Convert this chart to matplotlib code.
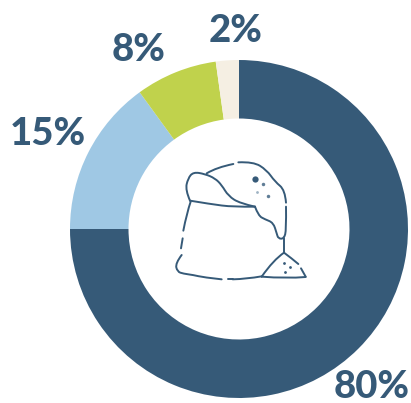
import matplotlib
matplotlib.use("Agg")
import matplotlib.pyplot as plt
from matplotlib.path import Path
from matplotlib.patches import PathPatch

W, H = 411, 403

# the wedge sizes follow the picture, the printed labels add up to 105
slice_names = ["main", "blue", "green", "cream"]
slice_sizes = [75, 15, 7.8, 2.2]
slice_labels = ["80%", "15%", "8%", "2%"]
slice_colors = ["#365A78", "#9FC8E4", "#C0D24C", "#F5EFE3"]
label_pos = [(372, 387), (48, 134), (139, 50), (236, 31)]

DARK = "#365A78"

icon_strokes = [
    [(90, 152), (76, 120), (84, 85), (100, 66), (135, 72), (165, 85), (185, 105), (205, 138), (240, 160), (285, 170)],
    [(90, 152), (150, 162), (220, 171), (285, 170)],
    [(285, 170), (295, 197), (315, 208), (340, 218), (350, 250), (355, 266), (372, 266), (379, 240), (378, 170)],
    [(140, 70), (170, 52), (220, 42)],
    [(235, 37), (280, 35), (320, 60), (345, 95), (375, 120), (378, 158)],
    [(371, 265), (371, 308)],
    [(305, 380), (340, 330), (372, 308)],
    [(372, 308), (395, 325), (415, 342)],
    [(423, 355), (437, 380)],
    [(437, 381), (380, 386), (305, 380)],
    [(92, 155), (80, 190), (70, 242)],
    [(68, 265), (63, 295)],
    [(65, 315), (46, 340), (52, 365), (70, 371), (100, 375), (130, 382), (185, 388)],
    [(205, 388), (218, 388)],
    [(218, 388), (260, 387), (305, 379)],
]
icon_dots = [(284, 88, 9, DARK), (310, 103, 5, "#5F7D96"), (291, 127, 4, "#9DB2C3"),
             (325, 138, 5, "#5F7D96"), (372, 338, 4, DARK), (390, 350, 4, DARK), (375, 367, 4, DARK)]


def to_px(x, y):
    return x / 3 + 160, y / 3 + 150


def smooth_path(points):
    pts = [to_px(x, y) for x, y in points]
    verts = [pts[0]]
    codes = [Path.MOVETO]
    for i in range(1, len(pts) - 1):
        end = pts[i + 1]
        if i < len(pts) - 2:
            end = ((pts[i][0] + pts[i + 1][0]) / 2, (pts[i][1] + pts[i + 1][1]) / 2)
        verts += [pts[i], end]
        codes += [Path.CURVE3, Path.CURVE3]
    if len(pts) == 2:
        verts.append(pts[1])
        codes.append(Path.LINETO)
    return Path(verts, codes)


fig = plt.figure(figsize=(W / 100, H / 100), dpi=100)
ax = fig.add_axes([0, 0, 1, 1])

# ring, clockwise from the top
ax.pie(slice_sizes, colors=slice_colors, startangle=90, counterclock=False,
       center=(239, H - 229), radius=169, frame=True,
       wedgeprops=dict(width=58.5, linewidth=0))
ax.set_xlim(0, W)
ax.set_ylim(0, H)
ax.set_aspect("equal")
ax.axis("off")

# labels and icon on top, in image pixels
top = fig.add_axes([0, 0, 1, 1])
top.set_xlim(0, W)
top.set_ylim(H, 0)
top.axis("off")
top.patch.set_alpha(0)

for label, (x, y) in zip(slice_labels, label_pos):
    top.text(x, y, label, color=DARK, fontsize=27.5, fontweight="black", family="Lato",
             ha="center", va="center")

for stroke in icon_strokes:
    top.add_patch(PathPatch(smooth_path(stroke), fill=False, edgecolor=DARK, lw=1.4, capstyle="round"))

for x, y, size, color in icon_dots:
    px, py = to_px(x, y)
    top.plot(px, py, "o", ms=size / 2, color=color, mew=0)

fig.savefig("out.png", dpi=100)
